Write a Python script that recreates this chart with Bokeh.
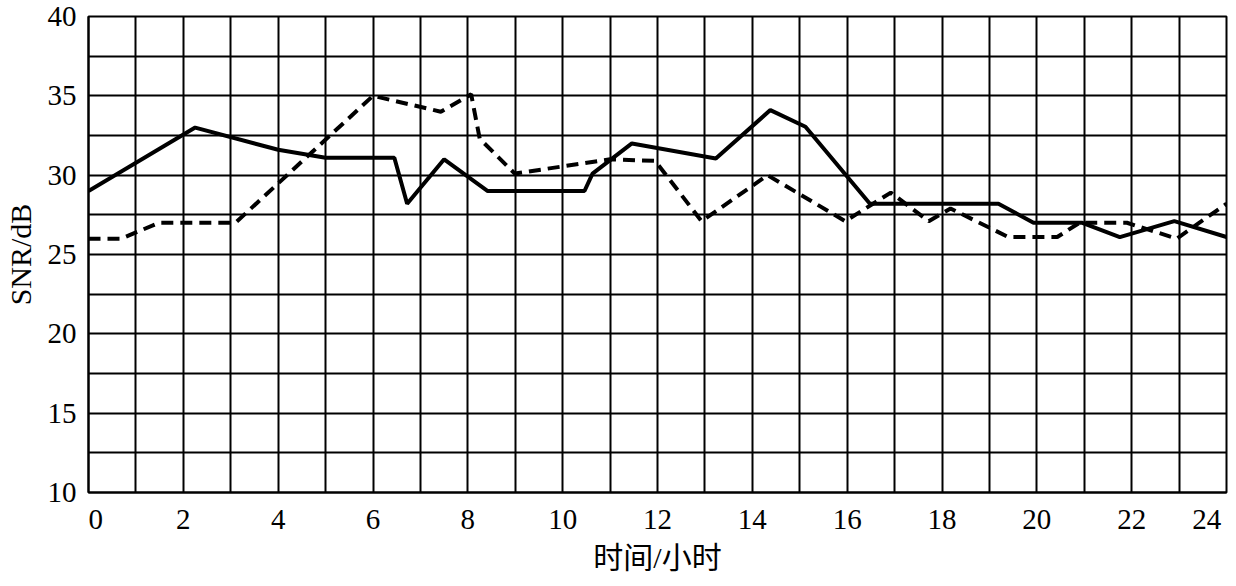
from bokeh.plotting import figure
from bokeh.models import FixedTicker, Range1d
from bokeh.embed import file_html
from bokeh.resources import INLINE

# ---- data ----
hours_solid = [0, 2.25, 4.0, 5.0, 6.45, 6.72, 7.5, 8.42, 10.46, 10.63, 11.46,
               13.23, 14.38, 15.12, 16.48, 19.19, 19.93, 20.96, 21.75, 22.9, 24]
snr_solid = [29.0, 33.0, 31.6, 31.1, 31.1, 28.2, 31.0, 29.0, 29.0, 30.1, 32.0,
             31.05, 34.1, 33.05, 28.2, 28.2, 27.0, 27.0, 26.1, 27.1, 26.1]

hours_dashed = [0, 0.69, 1.49, 3.1, 6.0, 7.43, 8.07, 8.25, 8.99, 11.0, 11.95,
                12.93, 14.32, 15.96, 16.92, 17.72, 18.18, 19.4, 20.43, 20.9,
                21.9, 22.95, 24]
snr_dashed = [26.0, 26.0, 27.0, 27.0, 35.0, 34.0, 35.1, 32.3, 30.1, 31.0, 30.9,
              27.1, 30.0, 27.1, 28.9, 27.1, 27.9, 26.1, 26.1, 27.0,
              27.0, 26.0, 28.2]

x_ticks = [0, 2, 4, 6, 8, 10, 12, 14, 16, 18, 20, 22, 24]
x_minor = [1, 3, 5, 7, 9, 11, 13, 15, 17, 19, 21, 23]
y_ticks = [10, 15, 20, 25, 30, 35, 40]
y_minor = [12.5, 17.5, 22.5, 27.5, 32.5, 37.5]

x_title = "时间/小时"
y_title = "SNR/dB"

NB = "\u00a0"
serif = "Liberation Serif"

p = figure(width=1228, height=576, output_backend="svg", toolbar_location=None,
           x_range=Range1d(0, 24), y_range=Range1d(10, 40),
           min_border_left=81, min_border_right=2, min_border_top=16,
           min_border_bottom=83)

p.background_fill_color = "white"
p.border_fill_color = "white"
p.outline_line_color = "black"
p.outline_line_width = 2

p.xaxis.ticker = FixedTicker(ticks=x_ticks, minor_ticks=x_minor)
p.yaxis.ticker = FixedTicker(ticks=y_ticks, minor_ticks=y_minor)
p.xaxis.major_label_overrides = {0: NB * 2 + "0", 24: "24" + NB}

for ax in (p.xaxis, p.yaxis):
    ax.axis_line_color = "black"
    ax.axis_line_width = 2
    ax.major_tick_line_color = None
    ax.minor_tick_line_color = None
    ax.major_label_text_font = serif
    ax.major_label_text_font_size = "29px"
    ax.major_label_text_color = "black"
    ax.axis_label_text_font_style = "normal"
    ax.axis_label_text_color = "black"
    ax.axis_label_text_font_size = "30px"

p.xaxis.major_label_standoff = 4
p.yaxis.major_label_standoff = 6
p.xaxis.axis_label = x_title
p.xaxis.axis_label_text_font = "Liberation Serif, Noto Sans CJK SC"
p.xaxis.axis_label_standoff = 3
p.yaxis.axis_label = y_title
p.yaxis.axis_label_text_font = serif
p.yaxis.axis_label_standoff = 8

for g in (p.xgrid, p.ygrid):
    g.grid_line_color = "black"
    g.grid_line_width = 2
    g.grid_line_alpha = 1
    g.minor_grid_line_color = "black"
    g.minor_grid_line_width = 2
    g.minor_grid_line_alpha = 1

p.line(hours_dashed, snr_dashed, line_color="black", line_width=4,
       line_dash="12 7")
p.line(hours_solid, snr_solid, line_color="black", line_width=4)

open("out.html", "w").write(file_html(p, INLINE))
